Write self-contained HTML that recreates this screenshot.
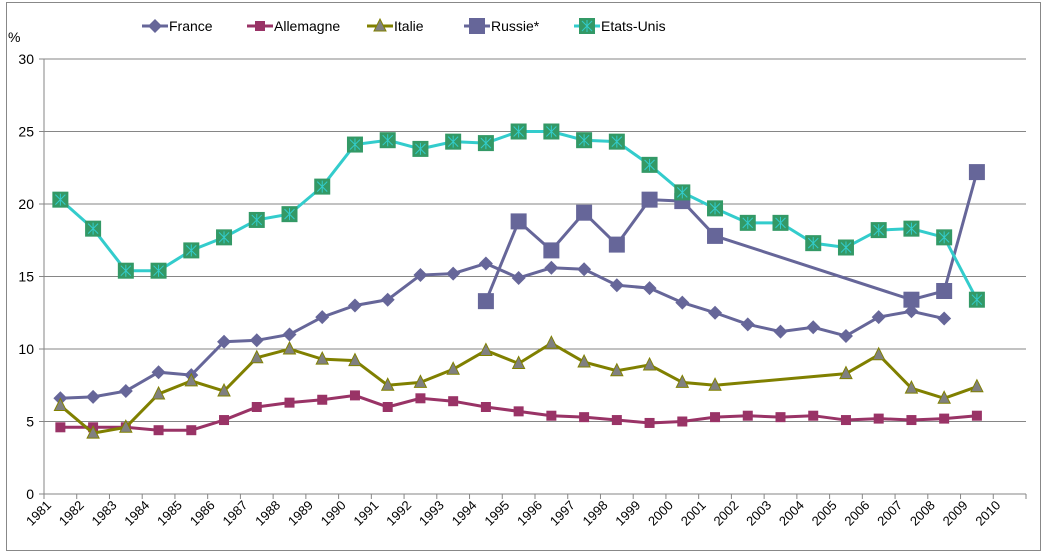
<!DOCTYPE html>
<html><head><meta charset="utf-8"><style>
body{margin:0;background:#fff}
svg{display:block;font-family:"Liberation Sans",sans-serif}
</style></head><body>
<svg id="c" width="1047" height="557"></svg>
<script>
const years=[1981,1982,1983,1984,1985,1986,1987,1988,1989,1990,1991,1992,1993,1994,1995,1996,1997,1998,1999,2000,2001,2002,2003,2004,2005,2006,2007,2008,2009,2010];
const france=[6.6,6.7,7.1,8.4,8.2,10.5,10.6,11.0,12.2,13.0,13.4,15.1,15.2,15.9,14.9,15.6,15.5,14.4,14.2,13.2,12.5,11.7,11.2,11.5,10.9,12.2,12.6,12.1,null];
const allemagne=[4.6,4.6,4.6,4.4,4.4,5.1,6.0,6.3,6.5,6.8,6.0,6.6,6.4,6.0,5.7,5.4,5.3,5.1,4.9,5.0,5.3,5.4,5.3,5.4,5.1,5.2,5.1,5.2,5.4];
const italie=[6.1,4.2,4.6,6.9,7.8,7.1,9.4,10.0,9.3,9.2,7.5,7.7,8.6,9.9,9.0,10.4,9.1,8.5,8.9,7.7,7.5,null,null,null,8.3,9.6,7.3,6.6,7.4];
const russie=[null,null,null,null,null,null,null,null,null,null,null,null,null,13.3,18.8,16.8,19.4,17.2,20.3,20.2,17.8,null,null,null,null,null,13.4,14.0,22.2];
const etatsUnis=[20.3,18.3,15.4,15.4,16.8,17.7,18.9,19.3,21.2,24.1,24.4,23.8,24.3,24.2,25.0,25.0,24.4,24.3,22.7,20.8,19.7,18.7,18.7,17.3,17.0,18.2,18.3,17.7,13.4];
const yTicks=[0,5,10,15,20,25,30];

const svg=document.getElementById('c');const NS='http://www.w3.org/2000/svg';
function mk(t,a,p){const e=document.createElementNS(NS,t);for(const k in a)e.setAttribute(k,a[k]);(p||svg).appendChild(e);return e;}
const X0=44,X1=1026,Y0=494,Y1=59;
const step=(X1-X0)/years.length;
const xs=i=>X0+step*(i+0.5);
const ys=v=>Y0-(v/30)*(Y0-Y1);

let e=mk('rect',{x:6.5,y:2.5,width:1034,height:548,fill:'none',stroke:'#888'});

yTicks.forEach(v=>{
 if(v>0){const g=mk('line',{x1:X0,x2:X1,y1:ys(v),y2:ys(v),stroke:'#868686','stroke-width':1});
 }
 mk('line',{x1:X0-5,x2:X0,y1:ys(v),y2:ys(v),stroke:'#868686'});
 const t=mk('text',{x:X0-10,y:ys(v)+5,'text-anchor':'end','font-size':14,fill:'#000'});t.textContent=v;
 
});
e=mk('line',{x1:X0,x2:X0,y1:Y1,y2:Y0,stroke:'#868686'});
e=mk('line',{x1:X0,x2:X1,y1:Y0,y2:Y0,stroke:'#868686'});
e=mk('text',{x:8,y:42,'font-size':14});e.textContent='%';
for(let i=0;i<=years.length;i++)mk('line',{x1:X0+step*i,x2:X0+step*i,y1:Y0,y2:Y0+5,stroke:'#868686'});
years.forEach((y,i)=>{const cx=X0+step*i+8,cy=Y0+12;
 const t=mk('text',{x:cx,y:cy,'text-anchor':'end','font-size':13,transform:`rotate(-45 ${cx} ${cy})`});t.textContent=y;
 });

function marker(type,x,y,col,g){
 if(type==='diamond')mk('polygon',{points:`${x},${y-7} ${x+7},${y} ${x},${y+7} ${x-7},${y}`,fill:col},g);
 else if(type==='square')mk('rect',{x:x-5,y:y-5,width:10,height:10,fill:col},g);
 else if(type==='tri')mk('polygon',{points:`${x},${y-7} ${x+6},${y+5} ${x-6},${y+5}`,fill:'#808080',stroke:'#808000','stroke-width':1},g);
 else if(type==='big')mk('rect',{x:x-8,y:y-8,width:16,height:16,fill:col},g);
 else if(type==='star'){mk('rect',{x:x-8,y:y-8,width:16,height:16,fill:'#339966'},g);
  mk('path',{d:`M${x-5} ${y-5}L${x+5} ${y+5}M${x+5} ${y-5}L${x-5} ${y+5}M${x} ${y-6}V${y+6}`,stroke:'#33cccc','stroke-width':1},g);}
}
const series=[
 {name:'France',d:france,col:'#666699',m:'diamond'},
 {name:'Allemagne',d:allemagne,col:'#993366',m:'square'},
 {name:'Italie',d:italie,col:'#808000',m:'tri'},
 {name:'Russie*',d:russie,col:'#666699',m:'big'},
 {name:'Etats-Unis',d:etatsUnis,col:'#33cccc',m:'star'}];
series.forEach((s,si)=>{
 const g=mk('g',{});
 const pts=[];s.d.forEach((v,i)=>{if(v!=null)pts.push([xs(i),ys(v)]);});
 mk('polyline',{points:pts.map(p=>p.join(',')).join(' '),fill:'none',stroke:s.col,'stroke-width':3},g);
 pts.forEach(p=>marker(s.m,p[0],p[1],s.m==='big'?'#666699':s.col,g));
 const lx=[142,247,367,464,574][si];
 const lg=mk('g',{});
 mk('line',{x1:lx,x2:lx+26,y1:26,y2:26,stroke:s.col,'stroke-width':3},lg);
 marker(s.m,lx+13,26,s.m==='big'?'#666699':s.col,lg);
 const t=mk('text',{x:lx+27,y:31,'font-size':14},lg);t.textContent=s.name;
});
</script>
</body></html>
